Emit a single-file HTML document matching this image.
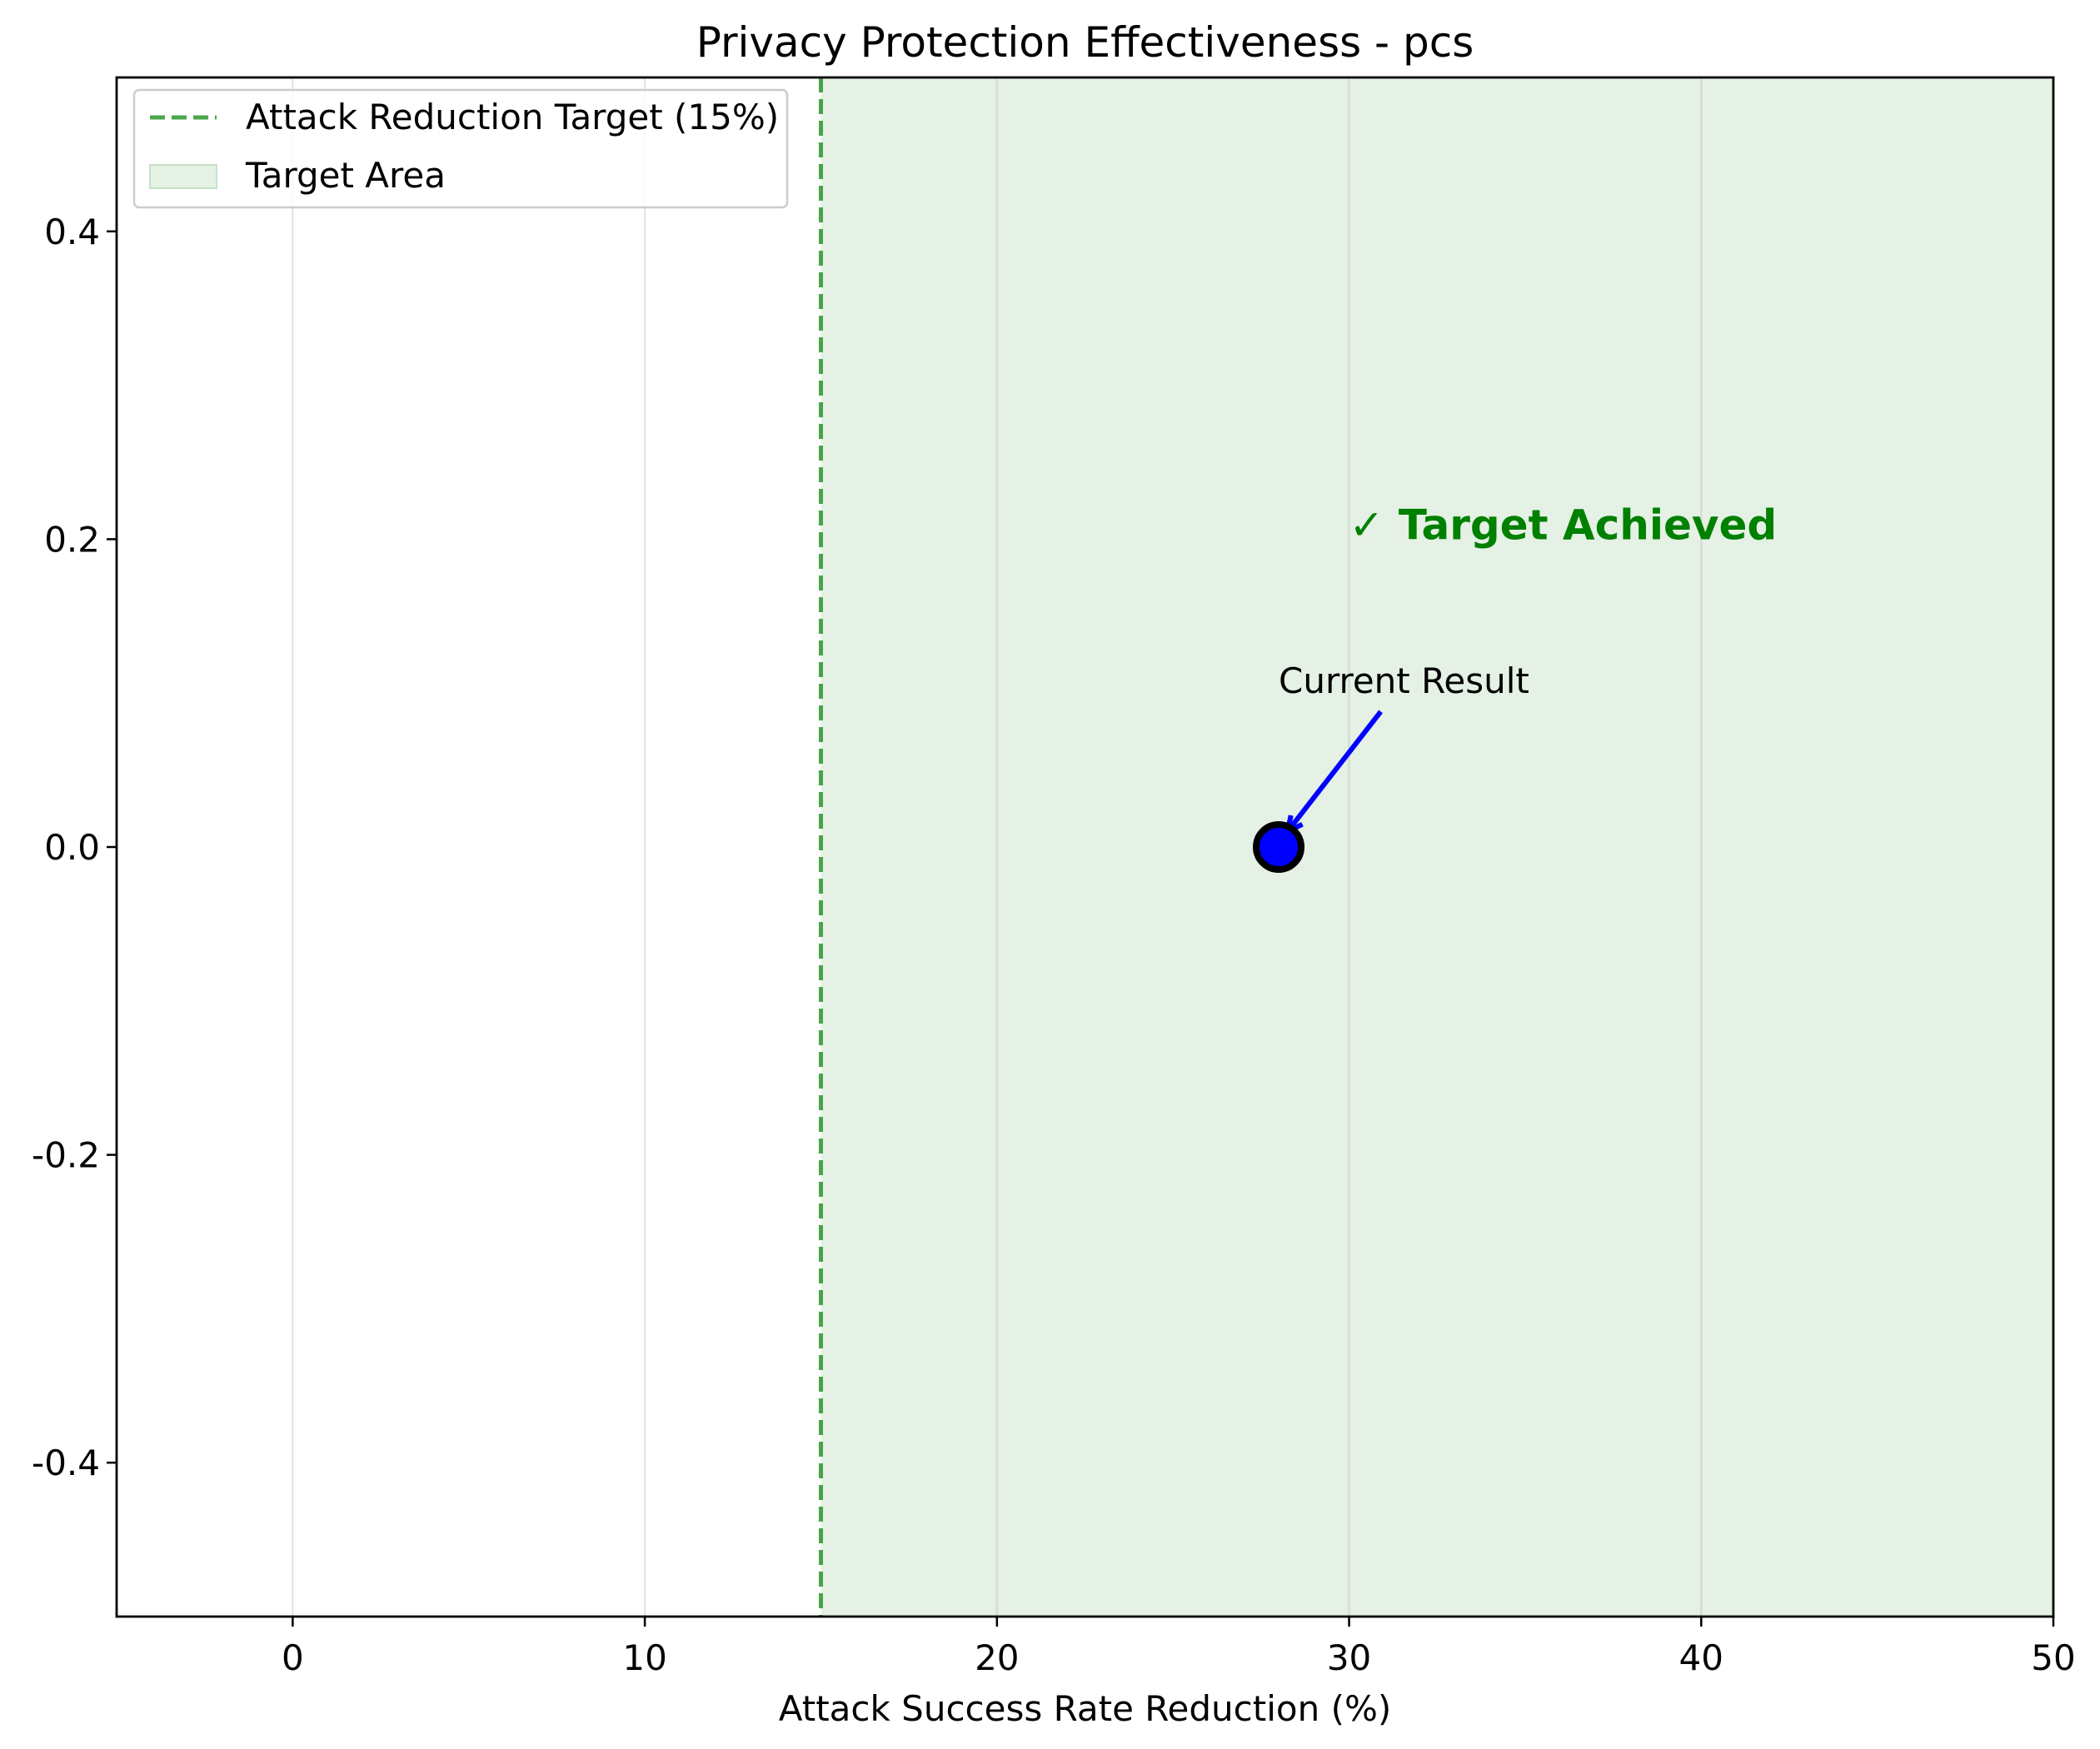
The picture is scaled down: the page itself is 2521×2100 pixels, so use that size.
<!DOCTYPE html>
<html><head><meta charset="utf-8"><style>
html,body{margin:0;padding:0;background:#fff;}
svg{display:block;font-family:"DejaVu Sans","Liberation Sans",sans-serif;}
</style></head><body>
<svg id="chart" width="2521" height="2100" viewBox="0 0 2521 2100"></svg>
<script>
const xTicks = [0, 10, 20, 30, 40, 50];
const yTicks = [-0.4, -0.2, 0.0, 0.2, 0.4];
const yTickLabels = ["-0.4", "-0.2", "0.0", "0.2", "0.4"];
const targetValue = [15];
const resultX = [28];
const resultY = [0];
const xDomain = [-5, 50];
const yDomain = [-0.5, 0.5];

const L = 140, R = 2465, T = 93, B = 1941;
const sx = v => L + (v - xDomain[0]) / (xDomain[1] - xDomain[0]) * (R - L);
const sy = v => B - (v - yDomain[0]) / (yDomain[1] - yDomain[0]) * (B - T);
const NS = "http://www.w3.org/2000/svg";
const svg = document.getElementById('chart');
function mk(tag, attrs, parent) {
  const e = document.createElementNS(NS, tag);
  for (const k in attrs) e.setAttribute(k, attrs[k]);
  (parent || svg).appendChild(e);
  return e;
}

const fill = mk('rect', {x: sx(targetValue[0]), y: T, width: R - sx(targetValue[0]), height: B - T, fill: '#e5f1e5'});



xTicks.forEach(v => {
  const g = mk('line', {x1: sx(v), x2: sx(v), y1: T, y2: B, stroke: '#b0b0b0', 'stroke-opacity': 0.3, 'stroke-width': 2.5});
  
  
});

const tl = mk('line', {x1: sx(targetValue[0]), x2: sx(targetValue[0]), y1: T, y2: B, stroke: 'green', 'stroke-opacity': 0.7, 'stroke-width': 5, 'stroke-dasharray': '18 8'});



const fr = mk('rect', {x: L, y: T, width: R - L, height: B - T, fill: 'none', stroke: '#000', 'stroke-width': 2.8});



xTicks.forEach(v => {
  const t = mk('line', {x1: sx(v), x2: sx(v), y1: B, y2: B + 12, stroke: '#000', 'stroke-width': 2.5});
  
  
  const lb = mk('text', {x: sx(v), y: B + 64, 'font-size': 42, 'text-anchor': 'middle'});
  lb.textContent = String(v);
  
  
});
yTicks.forEach((v, i) => {
  const t = mk('line', {x1: L - 12, x2: L, y1: sy(v), y2: sy(v), stroke: '#000', 'stroke-width': 2.5});
  
  
  const lb = mk('text', {x: L - 20, y: sy(v) + 15, 'font-size': 42, 'text-anchor': 'end'});
  lb.textContent = yTickLabels[i];
  
  
});

const title = mk('text', {x: (L + R) / 2, y: 68, 'font-size': 50, 'text-anchor': 'middle'});
title.textContent = 'Privacy Protection Effectiveness - pcs';


const xl = mk('text', {x: (L + R) / 2, y: 2066, 'font-size': 42, 'text-anchor': 'middle'});
xl.textContent = 'Attack Success Rate Reduction (%)';



const px = sx(resultX[0]), py = sy(resultY[0]);
const ax0 = sx(resultX[0] + 2.9), ay0 = sy(resultY[0] + 0.088);
const ax1 = sx(resultX[0] + 0.25), ay1 = sy(resultY[0] + 0.01);
const ar = mk('line', {x1: ax0, y1: ay0, x2: ax1, y2: ay1, stroke: 'blue', 'stroke-width': 6});


const ang = Math.atan2(ay1 - ay0, ax1 - ax0);
const hl = 20;
const ah = mk('polyline', {points: `${ax1 - hl*Math.cos(ang - 0.45)},${ay1 - hl*Math.sin(ang - 0.45)} ${ax1},${ay1} ${ax1 - hl*Math.cos(ang + 0.45)},${ay1 - hl*Math.sin(ang + 0.45)}`, fill: 'none', stroke: 'blue', 'stroke-width': 6});


const cr = mk('text', {x: sx(resultX[0]), y: sy(resultY[0] + 0.1), 'font-size': 42});
cr.textContent = 'Current Result';



const pt = mk('circle', {cx: px, cy: py, r: 27, fill: 'blue', stroke: '#000', 'stroke-width': 8});



const ta = mk('text', {x: sx(30), y: sy(0.2), 'font-size': 50, 'font-weight': 'bold', fill: 'green'});
ta.textContent = '✓ Target Achieved';



const lg = mk('g', {});


mk('rect', {x: 161, y: 108, width: 784, height: 141, rx: 6, fill: '#fff', 'fill-opacity': 0.8, stroke: '#ccc', 'stroke-width': 2.5}, lg);
const le1 = mk('line', {x1: 180, x2: 260, y1: 141, y2: 141, stroke: 'green', 'stroke-opacity': 0.7, 'stroke-width': 5, 'stroke-dasharray': '18 8'}, lg);


const lt1 = mk('text', {x: 295, y: 155, 'font-size': 42}, lg);
lt1.textContent = 'Attack Reduction Target (15%)';


const le2 = mk('rect', {x: 180, y: 198, width: 80, height: 28, fill: '#e5f1e5', stroke: '#c6e2c6', 'stroke-width': 2}, lg);


const lt2 = mk('text', {x: 295, y: 225, 'font-size': 42}, lg);
lt2.textContent = 'Target Area';


</script>
</body></html>
